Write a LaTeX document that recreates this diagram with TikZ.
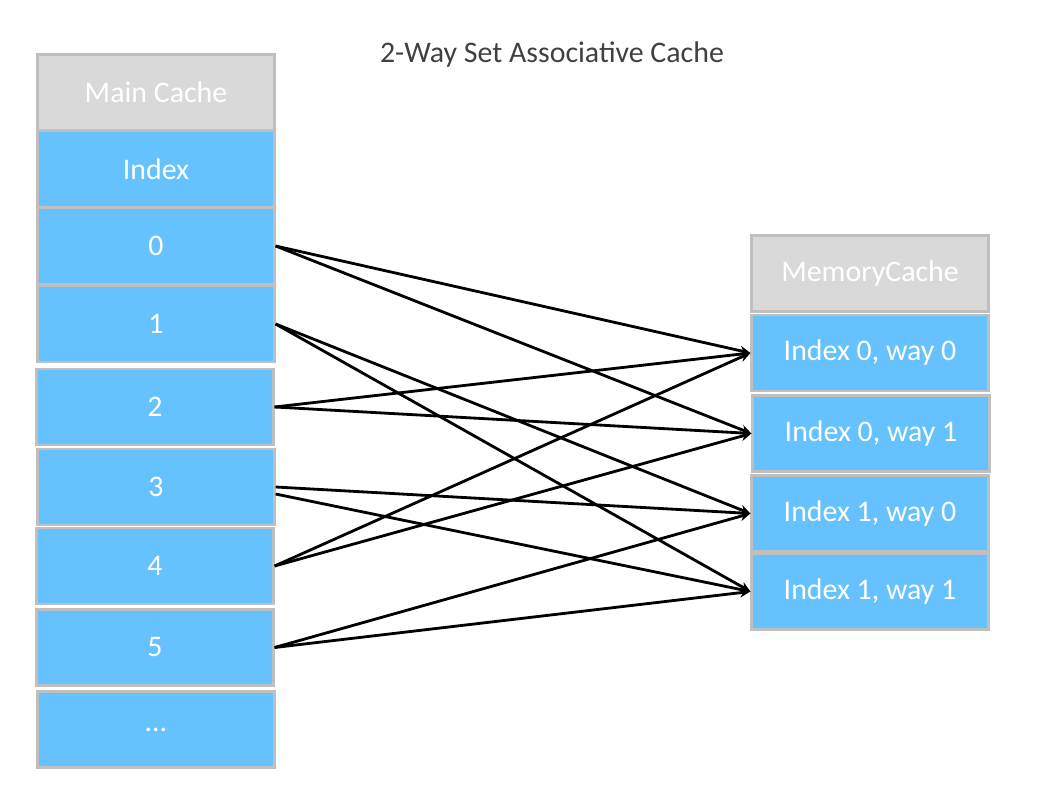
\documentclass[tikz,border=0pt]{standalone}
\usepackage{fontspec}
\setmainfont{Carlito}
\usetikzlibrary{arrows.meta, positioning}
\definecolor{cellblue}{HTML}{66C2FF}
\definecolor{headgray}{HTML}{D9D9D9}
\definecolor{edgegray}{HTML}{BFBFBF}
\definecolor{titlegray}{HTML}{404040}

\begin{document}
\begin{tikzpicture}[
    x=0.02cm, y=-0.02cm,
    cell/.style={draw=edgegray, line width=1.3pt, fill=cellblue, text=white,
                 minimum width=4.74cm, minimum height=1.52cm, inner sep=0pt},
    head/.style={cell, fill=headgray},
    arr/.style={-{Stealth[length=6pt, width=5.5pt]}, line width=1.6pt},
    font=\fontsize{17}{20}\selectfont
]
\useasboundingbox (0,0) rectangle (1063,800);

% Title
\node[text=titlegray] (title) at (552,55) {2-Way Set Associative Cache};

% Main cache column
\node[head] (mhead) at (156,92.5) {Main Cache};
\node[cell] (midx) at (156,169) {Index};
\node[cell] (m0) at (156,246) {0};
\node[cell] (m1) at (156,324) {1};
\node[cell] (m2) at (155,407) {2};
\node[cell] (m3) at (156,487) {3};
\node[cell] (m4) at (155,566) {4};
\node[cell] (m5) at (155,647.5) {5};
\node[cell] (mdots) at (156,729.5) {...};

% Memory cache column
\node[head] (chead) at (870,273.5) {MemoryCache};
\node[cell] (w00) at (870,353) {Index 0, way 0};
\node[cell] (w01) at (871,433.5) {Index 0, way 1};
\node[cell] (w10) at (870,513.5) {Index 1, way 0};
\node[cell] (w11) at (870,591.5) {Index 1, way 1};

% Mapping arrows
\draw[arr] (m0.east) -- (w00.west);
\draw[arr] (m0.east) -- (w01.west);
\draw[arr] (m1.east) -- (w10.west);
\draw[arr] (m1.east) -- (w11.west);
\draw[arr] (m2.east) -- (w00.west);
\draw[arr] (m2.east) -- (w01.west);
\draw[arr] (m3.east) -- (w10.west);
\draw[arr] ([yshift=-4pt]m3.east) -- (w11.west);
\draw[arr] (m4.east) -- (w00.west);
\draw[arr] (m4.east) -- (w01.west);
\draw[arr] (m5.east) -- (w10.west);
\draw[arr] (m5.east) -- (w11.west);

\end{tikzpicture}
\end{document}
